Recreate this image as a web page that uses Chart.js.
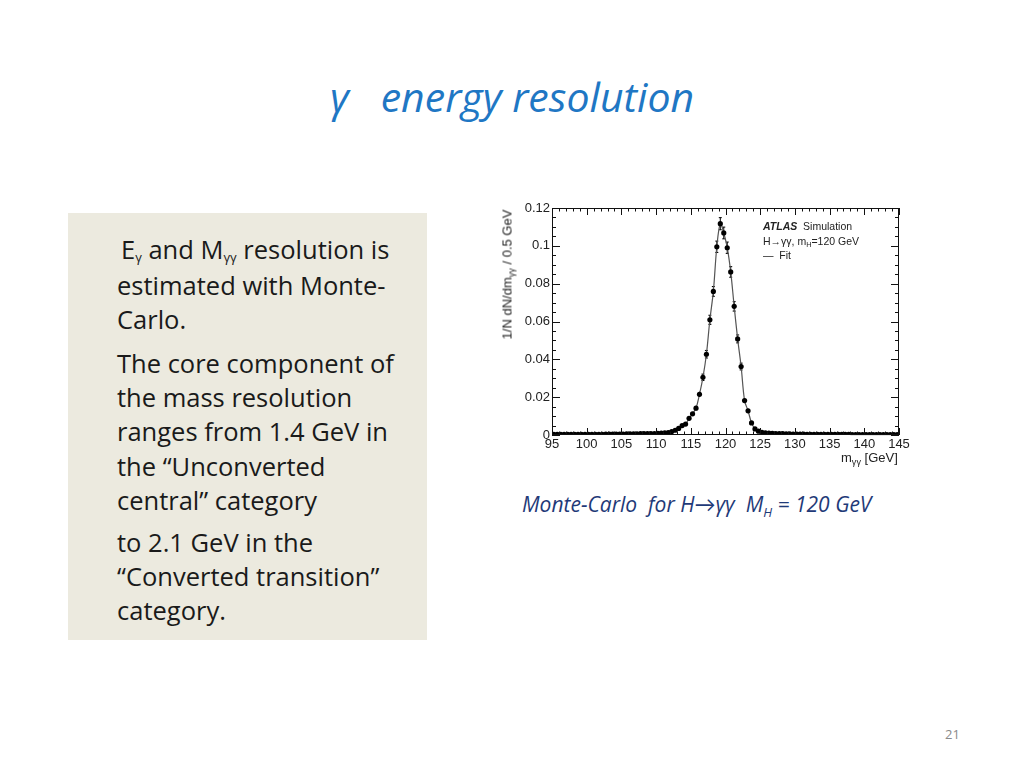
<!DOCTYPE html>
<html>
<head>
<meta charset="utf-8">
<title>γ energy resolution</title>
<script src="https://cdn.jsdelivr.net/npm/chart.js@4.4.1/dist/chart.umd.min.js"></script>
<style>
  body { margin: 0; background: #fff; }
  #slide { position: relative; width: 1024px; height: 768px; overflow: hidden; font-family: "Open Sans", Lato, sans-serif; font-variant-ligatures: none; }
  #title { position: absolute; left: 0; width: 1024px; top: 68px; text-align: center; font-size: 41px; font-style: italic; color: #1F77C4; white-space: pre; }
  #box { position: absolute; left: 68px; top: 213px; width: 359px; height: 427px; background: #ECEADF; }
  #box p { margin: 0; position: absolute; left: 49px; font-size: 25.5px; line-height: 34.2px; color: #1a1a1a; white-space: nowrap; }
  #box sub { font-size: 13px; vertical-align: -3px; line-height: 0; }
  #chartWrap { position: absolute; left: 490px; top: 195px; width: 430px; height: 280px; }
  .lbl { position: absolute; font-family: "Liberation Sans", Arial, sans-serif; color: #222; white-space: nowrap; }
  .lbl sub { font-size: 0.7em; vertical-align: -0.3em; line-height: 0; }
  #caption { position: absolute; left: 522px; top: 490px; font-size: 21px; font-style: italic; color: #1F3A78; white-space: pre; }
  #caption sub { font-size: 13px; vertical-align: -5px; line-height: 0; }
  #pagenum { position: absolute; left: 945px; top: 725px; font-size: 13px; color: #8a8a8a; }
</style>
</head>
<body>
<div id="slide">
  <div id="title">γ   energy resolution</div>
  <div id="box">
    <p style="top: 19px; left: 53px;">E<sub>γ</sub> and M<sub>γγ</sub> resolution is</p>
    <p style="top: 55px;">estimated with Monte-<br>Carlo.</p>
    <p style="top: 133px;">The core component of<br>the mass resolution<br>ranges from 1.4 GeV in<br>the “Unconverted<br>central” category</p>
    <p style="top: 312px;">to 2.1 GeV in the<br>“Converted transition”<br>category.</p>
  </div>

  <div id="chartWrap"><canvas id="massChart" width="430" height="280"></canvas></div>

  <div class="lbl" style="left: 437px; top: 267px; font-size: 13px; transform: rotate(-90deg); transform-origin: center; width: 140px; text-align: center;">1/N dN/dm<sub>γγ</sub> / 0.5 GeV</div>
  <div class="lbl" style="left: 841px; top: 450px; font-size: 13px;">m<sub>γγ</sub> [GeV]</div>

  <div class="lbl" style="left: 763px; top: 220px; font-size: 10.5px;"><b><i>ATLAS</i></b>&nbsp; Simulation</div>
  <div class="lbl" style="left: 763px; top: 235px; font-size: 10.5px;">H→γγ, m<sub>H</sub>=120 GeV</div>
  <div class="lbl" style="left: 763px; top: 249px; font-size: 10.5px;">—&nbsp; Fit</div>

  <div id="caption">Monte-Carlo  for H→γγ  M<sub>H</sub> = 120 GeV</div>
  <div id="pagenum">21</div>
</div>

<script>
// bin centres of the 0.5 GeV histogram, m_yy in GeV
const binCenters = [
  95.25, 95.75, 96.25, 96.75, 97.25, 97.75, 98.25, 98.75, 99.25, 99.75,
  100.25, 100.75, 101.25, 101.75, 102.25, 102.75, 103.25, 103.75, 104.25, 104.75,
  105.25, 105.75, 106.25, 106.75, 107.25, 107.75, 108.25, 108.75, 109.25, 109.75,
  110.25, 110.75, 111.25, 111.75, 112.25, 112.75, 113.25, 113.75, 114.25, 114.75,
  115.25, 115.75, 116.25, 116.75, 117.25, 117.75, 118.25, 118.75, 119.25, 119.75,
  120.25, 120.75, 121.25, 121.75, 122.25, 122.75, 123.25, 123.75, 124.25, 124.75,
  125.25, 125.75, 126.25, 126.75, 127.25, 127.75, 128.25, 128.75, 129.25, 129.75,
  130.25, 130.75, 131.25, 131.75, 132.25, 132.75, 133.25, 133.75, 134.25, 134.75,
  135.25, 135.75, 136.25, 136.75, 137.25, 137.75, 138.25, 138.75, 139.25, 139.75,
  140.25, 140.75, 141.25, 141.75, 142.25, 142.75, 143.25, 143.75, 144.25, 144.75
];

// 1/N dN/dm values
const mcValues = [
  0.0003, 0.0003, 0.0003, 0.0003, 0.0003, 0.0003, 0.0003, 0.0003, 0.0004, 0.0004,
  0.0004, 0.0004, 0.0004, 0.0004, 0.0004, 0.0005, 0.0005, 0.0005, 0.0005, 0.0005,
  0.0005, 0.0006, 0.0006, 0.0006, 0.0006, 0.0007, 0.0007, 0.0007, 0.0008, 0.0008,
  0.0009, 0.0010, 0.0011, 0.0013, 0.0018, 0.0025, 0.0035, 0.0050, 0.0058, 0.0088,
  0.0112, 0.0142, 0.0215, 0.0305, 0.0427, 0.0609, 0.0759, 0.0995, 0.1117, 0.1068,
  0.0990, 0.0862, 0.0680, 0.0508, 0.0362, 0.0182, 0.0128, 0.0064, 0.0032, 0.0020,
  0.0014, 0.0011, 0.0010, 0.0009, 0.0008, 0.0007, 0.0007, 0.0006, 0.0006, 0.0005,
  0.0005, 0.0005, 0.0005, 0.0004, 0.0004, 0.0004, 0.0004, 0.0004, 0.0003, 0.0003,
  0.0003, 0.0003, 0.0003, 0.0003, 0.0003, 0.0003, 0.0002, 0.0002, 0.0002, 0.0002,
  0.0002, 0.0002, 0.0002, 0.0002, 0.0002, 0.0002, 0.0002, 0.0002, 0.0002, 0.0002
];

// statistical errors (half length of the vertical bars)
const mcErrors = [
  0.0002, 0.0002, 0.0002, 0.0002, 0.0002, 0.0002, 0.0002, 0.0002, 0.0002, 0.0002,
  0.0002, 0.0002, 0.0002, 0.0002, 0.0002, 0.0002, 0.0002, 0.0002, 0.0002, 0.0002,
  0.0002, 0.0002, 0.0002, 0.0002, 0.0002, 0.0003, 0.0003, 0.0003, 0.0003, 0.0003,
  0.0003, 0.0003, 0.0003, 0.0004, 0.0004, 0.0005, 0.0006, 0.0007, 0.0008, 0.0009,
  0.0010, 0.0012, 0.0014, 0.0017, 0.0020, 0.0024, 0.0026, 0.0030, 0.0032, 0.0031,
  0.0030, 0.0028, 0.0025, 0.0021, 0.0018, 0.0013, 0.0011, 0.0008, 0.0006, 0.0004,
  0.0004, 0.0003, 0.0003, 0.0003, 0.0003, 0.0003, 0.0003, 0.0002, 0.0002, 0.0002,
  0.0002, 0.0002, 0.0002, 0.0002, 0.0002, 0.0002, 0.0002, 0.0002, 0.0002, 0.0002,
  0.0002, 0.0002, 0.0002, 0.0002, 0.0002, 0.0002, 0.0002, 0.0002, 0.0002, 0.0002,
  0.0002, 0.0002, 0.0002, 0.0002, 0.0002, 0.0002, 0.0002, 0.0002, 0.0002, 0.0002
];

const xTicks = [95, 100, 105, 110, 115, 120, 125, 130, 135, 140, 145];
const yTicks = [0, 0.02, 0.04, 0.06, 0.08, 0.1, 0.12];

const binWidth = 0.5;
const points = binCenters.map((x, i) => ({ x: x, y: mcValues[i] }));

// error bars, drawn under the markers
const errorBars = {
  id: 'errorBars',
  beforeDatasetsDraw(chart) {
    const ctx = chart.ctx;
    const xs = chart.scales.x, ys = chart.scales.y;
    ctx.save();
    ctx.strokeStyle = '#000';
    ctx.lineWidth = 1;
    binCenters.forEach((c, i) => {
      const px = xs.getPixelForValue(c);
      const top = ys.getPixelForValue(mcValues[i] + mcErrors[i]);
      const bot = ys.getPixelForValue(Math.max(0, mcValues[i] - mcErrors[i]));
      const py = ys.getPixelForValue(mcValues[i]);
      ctx.beginPath();
      ctx.moveTo(px, top); ctx.lineTo(px, bot);
      ctx.moveTo(xs.getPixelForValue(c - binWidth / 2), py);
      ctx.lineTo(xs.getPixelForValue(c + binWidth / 2), py);
      if (mcErrors[i] > 0.0015) {
        ctx.moveTo(px - 1.5, top); ctx.lineTo(px + 1.5, top);
        ctx.moveTo(px - 1.5, bot); ctx.lineTo(px + 1.5, bot);
      }
      ctx.stroke();
    });
    ctx.restore();
  }
};

// ROOT style frame with inward ticks on all four sides
const rootFrame = {
  id: 'rootFrame',
  afterDraw(chart) {
    const ctx = chart.ctx;
    const a = chart.chartArea;
    const xs = chart.scales.x, ys = chart.scales.y;
    ctx.save();
    ctx.strokeStyle = '#111';
    ctx.lineWidth = 1;
    ctx.strokeRect(a.left + 0.5, a.top + 0.5, a.right - a.left - 1, a.bottom - a.top - 1);
    ctx.beginPath();
    for (let v = 95; v <= 145; v += 1) {
      const px = Math.round(xs.getPixelForValue(v)) + 0.5;
      const len = (v % 5 === 0) ? 7 : 3.5;
      ctx.moveTo(px, a.bottom); ctx.lineTo(px, a.bottom - len);
      ctx.moveTo(px, a.top); ctx.lineTo(px, a.top + len);
    }
    for (let k = 0; k <= 24; k++) {
      const py = Math.round(ys.getPixelForValue(k * 0.005)) + 0.5;
      const len = (k % 4 === 0) ? 8 : 4;
      ctx.moveTo(a.left, py); ctx.lineTo(a.left + len, py);
      ctx.moveTo(a.right, py); ctx.lineTo(a.right - len, py);
    }
    ctx.stroke();
    ctx.restore();
  }
};

new Chart(document.getElementById('massChart'), {
  type: 'line',
  data: {
    datasets: [{
      label: 'Fit',
      data: points,
      borderColor: '#555',
      borderWidth: 1.2,
      tension: 0.35,
      pointRadius: 2.6,
      pointBackgroundColor: '#000',
      pointBorderColor: '#000',
      pointBorderWidth: 0
    }]
  },
  options: {
    responsive: false,
    animation: false,
    layout: { padding: { top: 13, right: 21, left: 0, bottom: 0 } },
    plugins: { legend: { display: false }, tooltip: { enabled: false } },
    scales: {
      x: {
        type: 'linear',
        min: 95,
        max: 145,
        afterBuildTicks: (scale) => { scale.ticks = xTicks.map(v => ({ value: v })); },
        afterFit: (scale) => { scale.height = 40; },
        grid: { display: false, drawTicks: false },
        border: { display: false },
        ticks: { color: '#222', padding: 2, font: { family: 'Liberation Sans', size: 13 } }
      },
      y: {
        min: 0,
        max: 0.12,
        afterBuildTicks: (scale) => { scale.ticks = yTicks.map(v => ({ value: v })); },
        afterFit: (scale) => { scale.width = 62; },
        grid: { display: false, drawTicks: false },
        border: { display: false },
        ticks: {
          color: '#222',
          padding: 2,
          font: { family: 'Liberation Sans', size: 13 },
          callback: (v) => String(Math.round(v * 100) / 100)
        }
      }
    }
  },
  plugins: [errorBars, rootFrame]
});
</script>
</body>
</html>
